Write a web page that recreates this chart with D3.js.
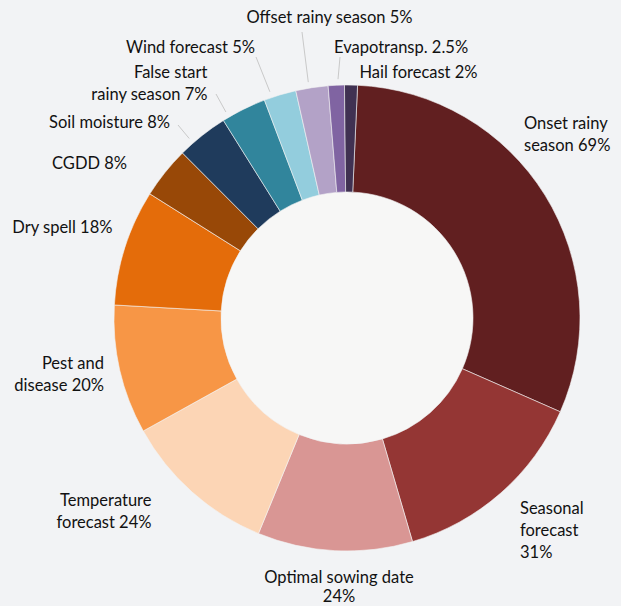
<!DOCTYPE html>
<html>
<head>
<meta charset="utf-8">
<script src="https://cdn.jsdelivr.net/npm/d3@7"></script>
<style>
  html, body { margin: 0; padding: 0; background: #f2f3f5; }
  svg { display: block; }
</style>
</head>
<body>
<svg id="chart" width="621" height="606"></svg>
<script>
// Share of respondents naming each information need (%)
const categories = [
  "Onset rainy season", "Seasonal forecast", "Optimal sowing date",
  "Temperature forecast", "Pest and disease", "Dry spell", "CGDD",
  "Soil moisture", "False start rainy season", "Wind forecast",
  "Offset rainy season", "Evapotransp.", "Hail forecast"
];
const values = [69, 31, 24, 24, 20, 18, 8, 8, 7, 5, 5, 2.5, 2];
const colors = [
  "#611f20", "#943634", "#d99694", "#fcd5b5", "#f79646", "#e46c0a",
  "#984807", "#1f3b5c", "#31859c", "#93cddd", "#b3a2c7", "#8064a2", "#403152"
];

// Label placement: anchor point, alignment, words per line,
// optional leader line (start point + fraction along the slice)
const labelLayout = [
  { x: 524, y: 129, anchor: "start", words: [2, 2] },
  { x: 520, y: 514, anchor: "start", words: [1, 1, 1] },
  { x: 339, y: 583, anchor: "middle", words: [3, 1], lh: 19 },
  { x: 151.5, y: 506, anchor: "end", words: [1, 2] },
  { x: 104, y: 369, anchor: "end", words: [2, 2] },
  { x: 112.5, y: 233, anchor: "end", words: [3] },
  { x: 127, y: 169, anchor: "end", words: [2] },
  { x: 170, y: 128, anchor: "end", words: [3], leader: [178, 125], t: 0.28 },
  { x: 207.5, y: 78, anchor: "end", words: [2, 3], leader: [216, 94], t: 0.14 },
  { x: 255, y: 53, anchor: "end", words: [3], leader: [256, 57], t: 0.24 },
  { x: 329.5, y: 23, anchor: "middle", words: [4], leader: [302, 32], t: 0.42 },
  { x: 334, y: 53, anchor: "start", words: [2], leader: [340, 57], t: 0.62 },
  { x: 359.5, y: 78, anchor: "start", words: [3] }
];

const cx = 347, cy = 318;
const outerR = 233, innerR = 126;
const rotation = 2.6 * Math.PI / 180;
const lineHeight = 22;

const svg = d3.select("#chart");
const g = svg.append("g").attr("transform", `translate(${cx},${cy})`);

const pie = d3.pie()
  .sort(null)
  .value(d => d)
  .startAngle(rotation)
  .endAngle(rotation + 2 * Math.PI);

const arcs = pie(values);
const arc = d3.arc().innerRadius(innerR).outerRadius(outerR);

// Donut hole
g.append("circle")
  .attr("r", innerR)
  .attr("fill", "#f7f7f6");

// Slices
g.selectAll("path.slice")
  .data(arcs)
  .join("path")
  .attr("class", "slice")
  .attr("d", arc)
  .attr("fill", (d, i) => colors[i])
  .attr("stroke", "#f4f4f4")
  .attr("stroke-width", 0.6);

// Leader lines for the narrow slices
const polar = (a, r) => [cx + r * Math.sin(a), cy - r * Math.cos(a)];
arcs.forEach((d, i) => {
  const L = labelLayout[i];
  if (!L.leader) return;
  const a = d.startAngle + L.t * (d.endAngle - d.startAngle);
  const [ex, ey] = polar(a, outerR + 6);
  svg.append("line")
    .attr("x1", L.leader[0]).attr("y1", L.leader[1])
    .attr("x2", ex).attr("y2", ey)
    .attr("stroke", "#c9c9c9")
    .attr("stroke-width", 1);
});

// Category labels with their values
categories.forEach((name, i) => {
  const L = labelLayout[i];
  const words = `${name} ${values[i]}%`.split(" ");
  const lines = [];
  let k = 0;
  L.words.forEach(n => { lines.push(words.slice(k, k + n).join(" ")); k += n; });
  const lh = L.lh || lineHeight;
  const text = svg.append("text")
    .attr("x", L.x).attr("y", L.y)
    .attr("text-anchor", L.anchor)
    .attr("font-family", "Lato, 'Open Sans', sans-serif")
    .attr("font-size", 16.5)
    .attr("fill", "#111111");
  lines.forEach((s, j) => {
    text.append("tspan")
      .attr("x", L.x)
      .attr("y", L.y + j * lh)
      .text(s);
  });
});
</script>
</body>
</html>
